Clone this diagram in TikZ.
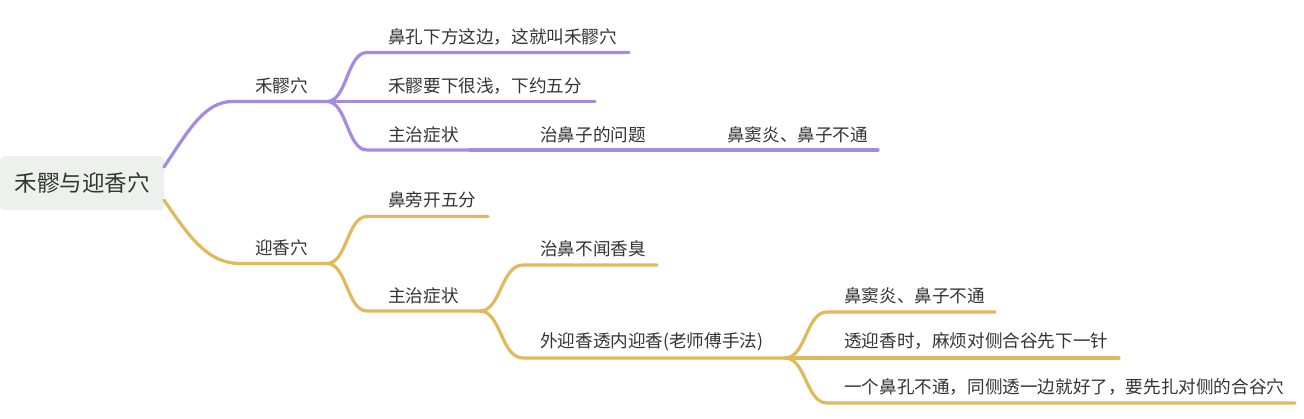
\documentclass[tikz,border=0pt]{standalone}
\usepackage{fontspec}
\setmainfont{Noto Sans CJK SC}
\definecolor{purp}{HTML}{A68AE0}
\definecolor{gold}{HTML}{E0B95C}
\definecolor{rootfill}{HTML}{EEF0EE}
\definecolor{txt}{HTML}{333333}
\begin{document}
\begin{tikzpicture}[x=1pt,y=-1pt,
  lbl/.style={anchor=west,inner sep=0pt,text=txt,font=\fontsize{17.6}{20}\selectfont},
  pline/.style={draw=purp,line width=3.2pt,line cap=round},
  gline/.style={draw=gold,line width=3.2pt,line cap=round}]
\useasboundingbox (0,0) rectangle (1304,419);
% root
\node[fill=rootfill,rounded corners=4pt,minimum width=164pt,minimum height=54pt,inner sep=0pt,anchor=north west,text=txt,font=\fontsize{22.5}{24}\selectfont] (root) at (0,156) {禾髎与迎香穴};
\coordinate (rp) at (164,167);
\coordinate (rg) at (164,200);
% ---------- purple ----------
\coordinate (p1s) at (233,101.5);
\coordinate (p1e) at (327,101.5);
\node[lbl] (p1) at (255,86) {禾髎穴};
\coordinate (p11s) at (367,52.5); \coordinate (p11e) at (629,52.5);
\node[lbl] (p11) at (388,37) {鼻孔下方这边，这就叫禾髎穴};
\coordinate (p12s) at (367,101.5); \coordinate (p12e) at (595,101.5);
\node[lbl] (p12) at (388,86) {禾髎要下很浅，下约五分};
\coordinate (p13s) at (367,150); \coordinate (p13e) at (470,150);
\node[lbl] (p13) at (388,134.5) {主治症状};
\coordinate (p131e) at (700,150);
\node[lbl] (p131) at (540,134.5) {治鼻子的问题};
\coordinate (p1311e) at (878,150);
\node[lbl] (p1311) at (727,134.5) {鼻窦炎、鼻子不通};
\draw[pline] (rp) .. controls (190,128) and (205,101.5) .. (p1s) -- (p1e);
\draw[pline] (p1e) .. controls (347,101.5) and (347,52.5) .. (p11s) -- (p11e);
\draw[pline] (p1e) -- (p12s) -- (p12e);
\draw[pline] (p1e) .. controls (347,101.5) and (347,150) .. (p13s) -- (p13e);
\draw[pline] (p13e) -- (p131e);
\draw[pline] (p131e) -- (p1311e);
% ---------- gold ----------
\coordinate (g1s) at (240,263.5);
\coordinate (g1e) at (327,263.5);
\node[lbl] (g1) at (255,247.5) {迎香穴};
\coordinate (g11s) at (367,216.5); \coordinate (g11e) at (488,216.5);
\node[lbl] (g11) at (388,200) {鼻旁开五分};
\coordinate (g12s) at (367,311); \coordinate (g12e) at (480,311);
\node[lbl] (g12) at (388,295.5) {主治症状};
\coordinate (g121s) at (523,265); \coordinate (g121e) at (657,265);
\node[lbl] (g121) at (540,248.5) {治鼻不闻香臭};
\coordinate (g122s) at (523,358); \coordinate (g122e) at (785,358);
\node[lbl] (g122) at (540,341.5) {外迎香透内迎香(老师傅手法)};
\coordinate (g1221s) at (827,312); \coordinate (g1221e) at (995,312);
\node[lbl] (g1221) at (844,295.5) {鼻窦炎、鼻子不通};
\coordinate (g1222e) at (1119,358);
\node[lbl] (g1222) at (844,341.5) {透迎香时，麻烦对侧合谷先下一针};
\coordinate (g1223s) at (827,403); \coordinate (g1223e) at (1295,403);
\node[lbl] (g1223) at (844,387) {一个鼻孔不通，同侧透一边就好了，要先扎对侧的合谷穴};
\draw[gline] (rg) .. controls (190,238) and (208,263.5) .. (g1s) -- (g1e);
\draw[gline] (g1e) .. controls (347,263.5) and (347,216.5) .. (g11s) -- (g11e);
\draw[gline] (g1e) .. controls (347,263.5) and (347,311) .. (g12s) -- (g12e);
\draw[gline] (g12e) .. controls (501,311) and (501,265) .. (g121s) -- (g121e);
\draw[gline] (g12e) .. controls (501,311) and (501,358) .. (g122s) -- (g122e);
\draw[gline] (g122e) .. controls (806,358) and (806,312) .. (g1221s) -- (g1221e);
\draw[gline] (g122e) -- (g1222e);
\draw[gline] (g122e) .. controls (806,358) and (806,403) .. (g1223s) -- (g1223e);
\end{tikzpicture}
\end{document}
